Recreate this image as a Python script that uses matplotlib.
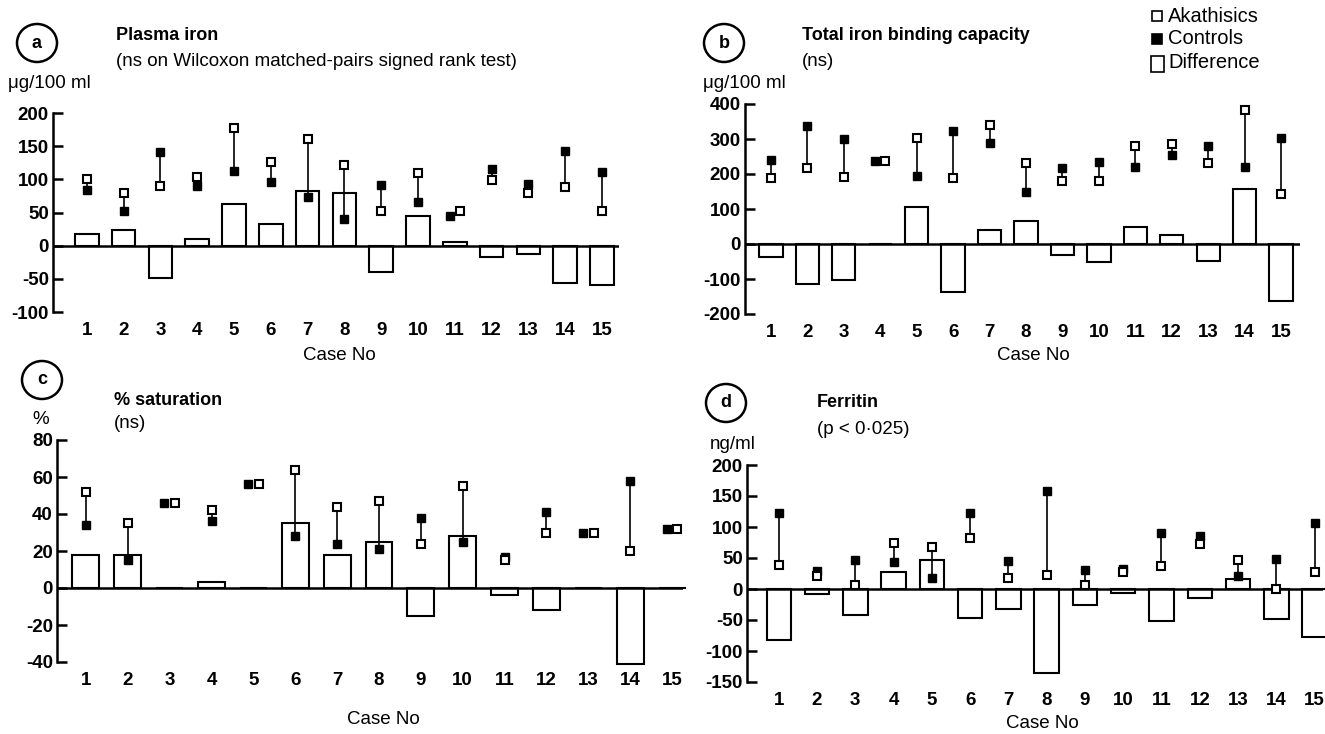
import matplotlib
matplotlib.use("Agg")
import matplotlib.pyplot as plt
from matplotlib.patches import Ellipse, Rectangle
from matplotlib.transforms import offset_copy

plt.rcParams['font.family'] = ['Liberation Sans', 'DejaVu Sans']

# case numbers
cases = list(range(1, 16))

# (a) plasma iron, ug/100 ml
iron_akath = [100, 79, 90, 104, 178, 126, 161, 121, 52, 110, 52, 99, 80, 88, 53]
iron_ctrl = [84, 53, 141, 90, 113, 96, 73, 40, 91, 66, 45, 116, 93, 143, 111]
iron_diff = [17, 23, -48, 10, 63, 32, 82, 80, -39, 45, 5, -17, -13, -56, -59]
iron_side = [11]

# (b) total iron binding capacity, ug/100 ml
tibc_akath = [190, 216, 191, 236, 302, 190, 340, 232, 181, 181, 280, 287, 231, 382, 143]
tibc_ctrl = [240, 337, 299, 236, 195, 324, 289, 150, 217, 235, 221, 255, 281, 221, 304]
tibc_diff = [-38, -114, -102, 0, 107, -138, 40, 65, -30, -52, 50, 25, -48, 156, -162]
tibc_side = [4]

# (c) % saturation
satn_akath = [52, 35, 46, 42, 56, 64, 44, 47, 24, 55, 15, 30, 30, 20, 32]
satn_ctrl = [34, 15, 46, 36, 56, 28, 24, 21, 38, 25, 17, 41, 30, 58, 32]
satn_diff = [18, 18, 0, 3, 0, 35, 18, 25, -15, 28, -4, -12, 0, -41, 0]
satn_side = [3, 5, 13, 15]

# (d) ferritin, ng/ml
ferr_akath = [39, 21, 6, 75, 68, 82, 17, 22, 6, 28, 37, 72, 46, 0, 28]
ferr_ctrl = [123, 29, 47, 43, 18, 123, 45, 158, 30, 33, 90, 86, 21, 49, 106]
ferr_diff = [-83, -8, -42, 28, 46, -46, -32, -136, -26, -6, -52, -14, 16, -49, -78]
ferr_side = []

W, H = 1325, 734
fig = plt.figure(figsize=(W / 100, H / 100), dpi=100)


def px_axes(left, top, right, bottom):
    # pixel box -> axes in figure fraction
    return fig.add_axes([left / W, 1 - bottom / H, (right - left) / W, (bottom - top) / H])


def ftext(x, y, s, **kw):
    fig.text(x / W, 1 - y / H, s, va='center', **kw)


def circle_label(x, y, s):
    fig.add_artist(Ellipse((x / W, 1 - y / H), 40 / W, 38 / H, transform=fig.transFigure,
                           fill=False, lw=1.8, color='black'))
    fig.text(x / W, 1 - y / H, s, ha='center', va='center', fontsize=13, fontweight='bold')


def draw_panel(ax, akath, ctrl, diff, side, ylim, yticks, xlim):
    bars = ax.bar(cases, diff, width=0.64, facecolor='white', edgecolor='black',
                  linewidth=1.5, zorder=2)
    for b in bars:
        b.set_clip_on(False)
    ax.axhline(0, color='black', lw=1.8, zorder=3)
    left_tr = offset_copy(ax.transData, fig=fig, x=-3.8, y=0, units='points')
    right_tr = offset_copy(ax.transData, fig=fig, x=3.8, y=0, units='points')
    for c, a, k in zip(cases, akath, ctrl):
        if c in side:
            ax.plot(c, k, 's', ms=6, mfc='black', mec='black', transform=left_tr, zorder=5)
            ax.plot(c, a, 's', ms=6, mfc='white', mec='black', mew=1.5, transform=right_tr, zorder=5)
        else:
            ax.plot([c, c], [a, k], color='black', lw=1.2, zorder=4)
            ax.plot(c, k, 's', ms=6, mfc='black', mec='black', zorder=5)
            ax.plot(c, a, 's', ms=6, mfc='white', mec='black', mew=1.5, zorder=5)
    ax.set_ylim(*ylim)
    ax.set_xlim(*xlim)
    ax.set_yticks(yticks)
    ax.set_xticks(cases)
    ax.set_xticklabels([str(c) for c in cases], fontweight='bold', fontsize=13.5)
    ax.set_yticklabels([str(t) for t in yticks], fontweight='bold', fontsize=13.5)
    for s in ['top', 'right', 'bottom']:
        ax.spines[s].set_visible(False)
    ax.spines['left'].set_linewidth(1.8)
    ax.tick_params(axis='y', direction='in', length=7, width=1.8, pad=3)
    ax.tick_params(axis='x', length=0, pad=7)
    ax.patch.set_alpha(0)


ax_a = px_axes(53, 113, 619, 312)
draw_panel(ax_a, iron_akath, iron_ctrl, iron_diff, iron_side, (-100, 200),
           [-100, -50, 0, 50, 100, 150, 200], (0.08, 15.46))

ax_b = px_axes(745, 104, 1300, 314)
draw_panel(ax_b, tibc_akath, tibc_ctrl, tibc_diff, tibc_side, (-200, 400),
           [-200, -100, 0, 100, 200, 300, 400], (0.29, 15.52))

ax_c = px_axes(57, 440, 683, 662)
draw_panel(ax_c, satn_akath, satn_ctrl, satn_diff, satn_side, (-40, 80),
           [-40, -20, 0, 20, 40, 60, 80], (0.31, 15.26))

ax_d = px_axes(747, 465, 1323, 682)
draw_panel(ax_d, ferr_akath, ferr_ctrl, ferr_diff, ferr_side, (-150, 200),
           [-150, -100, -50, 0, 50, 100, 150, 200], (0.17, 15.22))

# panel headings
circle_label(37, 43, 'a')
ftext(116, 35, 'Plasma iron', fontsize=13, fontweight='bold')
ftext(116, 62, '(ns on Wilcoxon matched-pairs signed rank test)', fontsize=13.5)
ftext(8, 84, 'μg/100 ml', fontsize=13.5)

circle_label(724, 43, 'b')
ftext(802, 35, 'Total iron binding capacity', fontsize=13, fontweight='bold')
ftext(802, 62, '(ns)', fontsize=13.5)
ftext(703, 83, 'μg/100 ml', fontsize=13.5)

circle_label(42, 380, 'c')
ftext(114, 400, '% saturation', fontsize=13, fontweight='bold')
ftext(114, 423, '(ns)', fontsize=13.5)
ftext(41, 420, '%', fontsize=13.5, ha='center')

circle_label(726, 403, 'd')
ftext(817, 403, 'Ferritin', fontsize=13, fontweight='bold')
ftext(817, 430, '(p < 0·025)', fontsize=13.5)
ftext(733, 444, 'ng/ml', fontsize=13.5, ha='center')

ftext(339, 355, 'Case No', fontsize=13.5, ha='center')
ftext(1033, 355, 'Case No', fontsize=13.5, ha='center')
ftext(383, 720, 'Case No', fontsize=13.5, ha='center')
ftext(1042, 724, 'Case No', fontsize=13.5, ha='center')

# legend
fig.add_artist(Rectangle((1152 / W, 1 - 21 / H), 10 / W, 10 / H, transform=fig.transFigure,
                         facecolor='white', edgecolor='black', lw=1.2))
fig.add_artist(Rectangle((1152 / W, 1 - 44 / H), 10 / W, 10 / H, transform=fig.transFigure,
                         facecolor='black', edgecolor='black', lw=1.2))
fig.add_artist(Rectangle((1151 / W, 1 - 72 / H), 13 / W, 16 / H, transform=fig.transFigure,
                         facecolor='white', edgecolor='black', lw=1.2))
ftext(1168, 16, 'Akathisics', fontsize=14.5)
ftext(1168, 39, 'Controls', fontsize=14.5)
ftext(1168, 62, 'Difference', fontsize=14.5)

fig.savefig('out.png', dpi=100)
